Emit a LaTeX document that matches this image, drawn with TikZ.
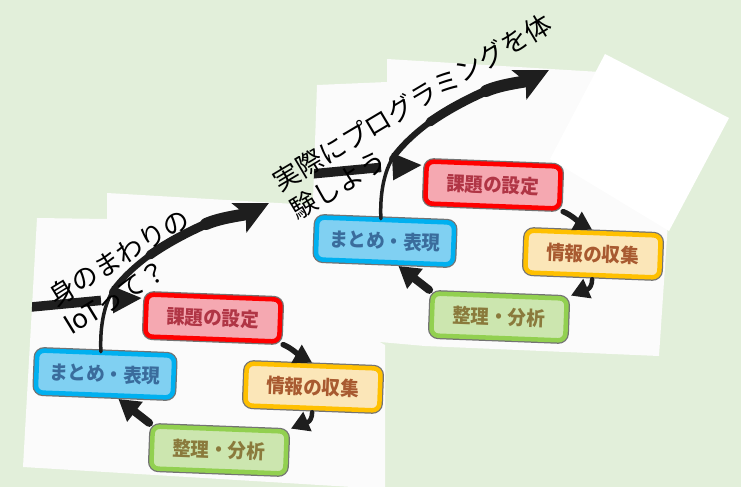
\documentclass[tikz,border=0pt]{standalone}
\usepackage{fontspec}
\newfontfamily\jp{Noto Sans CJK JP}
\usetikzlibrary{arrows.meta,calc}
\definecolor{bgg}{HTML}{E2EFDA}
\definecolor{panelw}{HTML}{FBFBFB}
\definecolor{kred}{HTML}{FF0000}
\definecolor{kfill}{HTML}{F5A8B1}
\definecolor{ktext}{HTML}{B03545}
\definecolor{jline}{HTML}{FFC000}
\definecolor{jfill}{HTML}{FBE6B8}
\definecolor{jtext}{HTML}{A85A30}
\definecolor{sline}{HTML}{92D050}
\definecolor{sfill}{HTML}{CCE6AF}
\definecolor{stext}{HTML}{8A7A3C}
\definecolor{mline}{HTML}{00B0F0}
\definecolor{mfill}{HTML}{80D0F2}
\definecolor{mtext}{HTML}{3A6C9C}
\definecolor{ink}{HTML}{1E1E1E}
\tikzset{
 cbox/.style={rectangle, rounded corners=7pt, line width=4.5pt, minimum width=134pt, minimum height=42pt, inner sep=0pt, rotate=-2.2, font=\jp\bfseries\fontsize{19.5}{19.5}\selectfont, preaction={draw=black!55, line width=7pt}},
 conn/.style={draw=ink, line cap=round},
 tipS/.style={-{Triangle[length=18pt,width=20pt]}},
 lbl/.style={anchor=base west, inner sep=0pt, font=\jp\fontsize{26.5}{33}\selectfont, text=black},
}
\newcommand\drawcycle[1]{%
 \node[cbox, draw=kred, fill=kfill, text=ktext] (#1-kadai) at (213,318) {\scalebox{0.95}[1]{課題の設定}};
 \node[cbox, draw=jline, fill=jfill, text=jtext] (#1-joho) at (313,387) {\scalebox{0.95}[1]{情報の収集}};
 \node[cbox, draw=sline, fill=sfill, text=stext] (#1-seiri) at (219,450) {\scalebox{0.95}[1]{整理・分析}};
 \node[cbox, draw=mline, fill=mfill, text=mtext, minimum width=137pt] (#1-matome) at (105,374) {\scalebox{0.95}[1]{まとめ・表現}};
 \coordinate (#1-a1) at (112,292);
 \coordinate (#1-a2) at (150,255);
 \coordinate (#1-a3) at (206,224);
 \coordinate (#1-top) at (269,203);
 \coordinate (#1-in) at (10,309);
 \coordinate (#1-gapL) at (101,300.4);
 \coordinate (#1-gapR) at (114,299.5);
 % kadai -> joho
 \draw[conn, line width=5.5pt, tipS, shorten <=2pt, shorten >=2pt] (#1-kadai.south east) .. controls +(10,4) and +(-14,-8) .. (#1-joho.north);
 % joho -> seiri
 \draw[conn, line width=4.5pt, tipS, shorten <=2pt, shorten >=2pt] (#1-joho.south) .. controls +(0,14) and +(14,-6) .. (#1-seiri.north east);
 % seiri -> matome
 \draw[conn, line width=8pt, -{Triangle[length=21pt,width=24pt]}, shorten <=2pt, shorten >=2pt] (#1-seiri.north west) -- ($(#1-matome.south)!0.18!(#1-matome.south east)$);
 % spiral up
 \draw[conn, line width=3.5pt] ([xshift=-5pt,yshift=-1pt]#1-matome.north) .. controls +(-1,-22) and +(-9,16) .. (#1-a1);
 \draw[conn, line width=6pt] (#1-a1) .. controls +(9,-13) and +(-15,11) .. (#1-a2);
 \draw[conn, line width=9pt] (#1-a2) .. controls +(17,-12) and +(-20,9) .. (#1-a3);
 \draw[conn, line width=12pt, -{Stealth[length=33pt,width=32pt,inset=7pt]}] (#1-a3) .. controls +(16,-7) and +(-24,12) .. (#1-top);
 % incoming
 \draw[conn, line width=9.5pt, line cap=butt] (#1-in) -- (#1-gapL);
 \draw[conn, line width=8pt, line cap=butt, -{Triangle[length=30pt,width=25pt]}, shorten >=2pt] (#1-gapR) -- ($(#1-kadai.west)!0.75!(#1-kadai.north west)$);
}
\begin{document}
\begin{tikzpicture}[x=1pt,y=-1pt]
\fill[bgg] (0,0) rectangle (741,487);
\useasboundingbox (0,0) rectangle (741,487);
% panel B
\begin{scope}
 \clip (317,85) -- (387,82) -- (387,59) -- (600,72) -- (668,222) -- (659,356) -- (425,346) -- (335,338) -- (280,290) -- (313,200) -- cycle;
 \fill[panelw] (0,0) rectangle (741,487);
 \begin{scope}[shift={(280,-133)}]
  \drawcycle{B}
 \end{scope}
\end{scope}
% panel A
\begin{scope}
 \clip (37,218) -- (107,219) -- (107,193) -- (312,205) -- (292,292) -- (385,345) -- (385,489) -- (23,467) -- cycle;
 \fill[panelw] (0,0) rectangle (741,487);
 \drawcycle{A}
\end{scope}
% blank card
\fill[white] (605,54) -- (729,118) -- (669,231) -- (550,159) -- cycle;
% labels
\node[lbl, rotate=31.5] (t1a) at (55.9,307.4) {身のまわりの};
\node[lbl, rotate=31.5] (t1b) at (71,336) {IoTって？};
\node[lbl, rotate=30.8] (t2a) at (280.7,192.4) {実際にプログラミングを体};
\node[lbl, rotate=30.8] (t2b) at (297.6,220.7) {験しよう};
\end{tikzpicture}
\end{document}
